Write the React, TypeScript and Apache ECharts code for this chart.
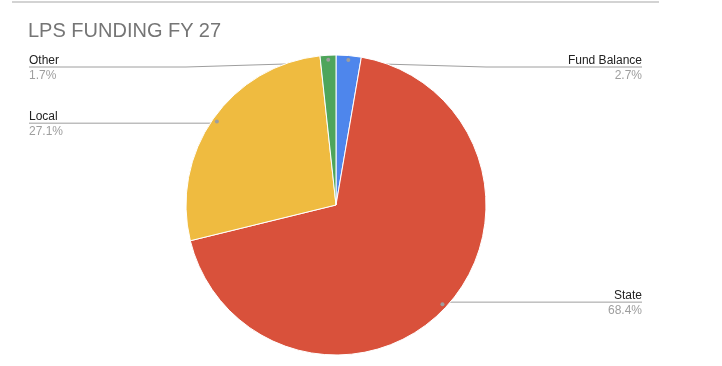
import React, { useEffect, useRef } from 'react';
import * as echarts from 'echarts';

const categories = ['Fund Balance', 'State', 'Local', 'Other'];
const values = [2.7, 68.4, 27.1, 1.7];
const colors = ['#4e86ec', '#d9513b', '#efbb40', '#4ea55b'];
const titleText = 'LPS FUNDING FY 27';

const W = 722;
const H = 366;
const VIEW_LEFT = 29;
const VIEW_RIGHT = 80;
const CX = 336;
const CY = 205;
const R = 150;
const DOT_R = R * 0.95;
const LABEL_MIN_Y = 67;
const FONT = "'Liberation Sans', Arial, Helvetica, sans-serif";

export default function App() {
  const ref = useRef<HTMLDivElement>(null);
  useEffect(() => {
    const chart = echarts.init(ref.current!, null, { renderer: 'svg', width: W, height: H });
    const data = categories.map((name, i) => ({ name, value: values[i], itemStyle: { color: colors[i] } }));
    const dotData = categories.map((name, i) => ({ name, value: values[i] }));
    chart.setOption({
      animation: false,
      textStyle: { fontFamily: FONT },
      title: {
        text: titleText,
        left: 28,
        top: 20,
        padding: 0,
        textStyle: { color: '#757575', fontSize: 20, fontWeight: 'normal', fontFamily: FONT },
      },
      graphic: [
        {
          type: 'line',
          shape: { x1: 12, y1: 2, x2: 659, y2: 2 },
          style: { stroke: '#c4c4c4', lineWidth: 1.5 },
          silent: true,
        },
      ],
      series: [
        {
          type: 'pie',
          left: VIEW_LEFT,
          right: VIEW_RIGHT,
          top: 0,
          bottom: 0,
          center: [CX - VIEW_LEFT, CY],
          radius: [0, R],
          startAngle: 90,
          clockwise: true,
          avoidLabelOverlap: false,
          silent: true,
          itemStyle: { borderColor: '#ffffff', borderWidth: 1 },
          label: {
            show: true,
            position: 'outside',
            alignTo: 'edge',
            edgeDistance: 0,
            formatter: (p: any) => `{n|${p.name}}\n{p|${p.value}%}`,
            rich: {
              n: { fontSize: 12, color: '#222222', lineHeight: 15, fontFamily: FONT },
              p: { fontSize: 12, color: '#9e9e9e', lineHeight: 15, fontFamily: FONT },
            },
          },
          labelLine: {
            show: true,
            length: 10,
            length2: 10,
            lineStyle: { color: '#9e9e9e', width: 1 },
          },
          labelLayout: (params: any) => {
            const pts = params.labelLinePoints;
            const rect = params.labelRect;
            if (!pts || !rect) return {};
            const dx = pts[1][0] - pts[0][0];
            const dy = pts[1][1] - pts[0][1];
            const len = Math.hypot(dx, dy) || 1;
            const ux = dx / len;
            const uy = dy / len;
            const dotX = CX + ux * DOT_R;
            const dotY = CY + uy * DOT_R;
            const y = Math.max(dotY, LABEL_MIN_Y);
            const isLeft = ux < 0;
            const bendX = isLeft ? CX - R : CX + R;
            const farX = isLeft ? rect.x : rect.x + rect.width;
            return {
              y,
              labelLinePoints: [
                [dotX, dotY],
                [bendX, y],
                [farX, y],
              ],
            };
          },
          data,
        },
        {
          type: 'pie',
          left: VIEW_LEFT,
          right: VIEW_RIGHT,
          top: 0,
          bottom: 0,
          center: [CX - VIEW_LEFT, CY],
          radius: [R * 0.9, R],
          startAngle: 90,
          clockwise: true,
          silent: true,
          itemStyle: { color: 'rgba(0,0,0,0)', borderWidth: 0 },
          label: {
            show: true,
            position: 'inside',
            formatter: '{d| }',
            rich: {
              d: { width: 4, height: 4, borderRadius: 2, backgroundColor: '#9e9e9e', fontSize: 4, lineHeight: 4 },
            },
          },
          labelLine: { show: false },
          data: dotData,
        },
      ],
    });
    return () => chart.dispose();
  }, []);
  return <div ref={ref} style={{ position: 'fixed', left: 0, top: 0, width: W, height: H }} />;
}
